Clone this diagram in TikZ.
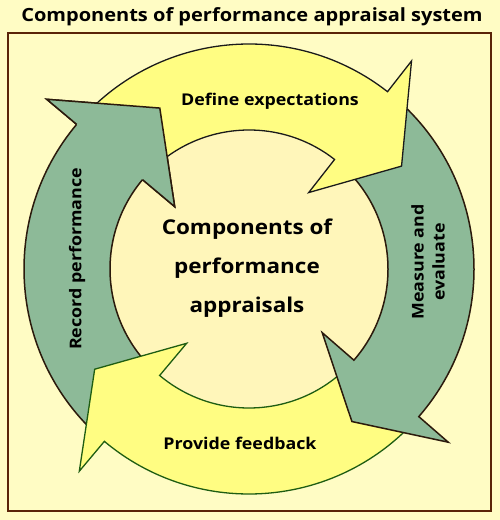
\documentclass[tikz,border=0pt]{standalone}
\usepackage{fontspec}
\setmainfont[FakeStretch=1.1]{Open Sans}
\definecolor{bgcol}{HTML}{FFFCC4}
\definecolor{disccol}{HTML}{FFF6BA}
\definecolor{framecol}{HTML}{5A2408}
\definecolor{yfill}{HTML}{FFFD82}
\definecolor{gfill}{HTML}{8DBA98}
\definecolor{gline}{HTML}{2B1A0C}
\definecolor{yline}{HTML}{1A1A1A}
\definecolor{ylinegreen}{HTML}{1E5D12}
\newcommand\ringarrow[4]{%
  \path[#1] (#2:225) arc[start angle=#2, end angle=#3, radius=225]
    -- (#3:264) -- (#4:184) -- (#3:97) -- (#3:139)
    arc[start angle=#3, end angle=#2, radius=139] -- cycle;}
\tikzset{
  greenarrow/.style={fill=gfill, draw=gline, line width=1.5pt},
  yellowtop/.style={fill=yfill, draw=yline, line width=1.3pt},
  yellowbot/.style={fill=yfill, draw=ylinegreen, line width=1.3pt},
  lbl/.style={font=\bfseries\fontsize{16.2}{21}\selectfont, text=black, align=center, inner sep=0pt},
}
\begin{document}
\begin{tikzpicture}[x=1pt,y=1pt]
\useasboundingbox (0,0) rectangle (500,520);
\fill[bgcol] (0,0) rectangle (500,520);
\node[font=\bfseries\fontsize{18.2}{22}\selectfont, inner sep=0pt] (title) at (252,503) {Components of performance appraisal system};
\draw[framecol, line width=2pt] (8,9) rectangle (491,487);
\begin{scope}[shift={(249,251)}]
  \fill[disccol] (0,0) circle[radius=140];
  \ringarrow{greenarrow}{227}{140}{119}
  \ringarrow{yellowbot}{316}{230}{213}
  \ringarrow{greenarrow}{49}{-41}{-56}
  \ringarrow{yellowtop}{137}{52}{34}
  \fill[gfill] (140:225) -- (140:264) -- (119:184) -- (140:97) -- (140:139) -- cycle;
  \draw[draw=gline, line width=1.5pt] (140:225) -- (140:264) -- (119:184) -- (140:97) -- (140:139);
\end{scope}
\node[lbl] (define) at (270,419) {Define expectations};
\node[lbl] (measure) at (428,258) [rotate=90] {Measure and\\evaluate};
\node[lbl] (provide) at (240,77) {Provide feedback};
\node[lbl] (record) at (77,261) [rotate=90] {Record performance};
\node[lbl, font=\bfseries\fontsize{20.4}{39}\selectfont] (center) at (247,252) {Components of\\performance\\appraisals};
\end{tikzpicture}
\end{document}
